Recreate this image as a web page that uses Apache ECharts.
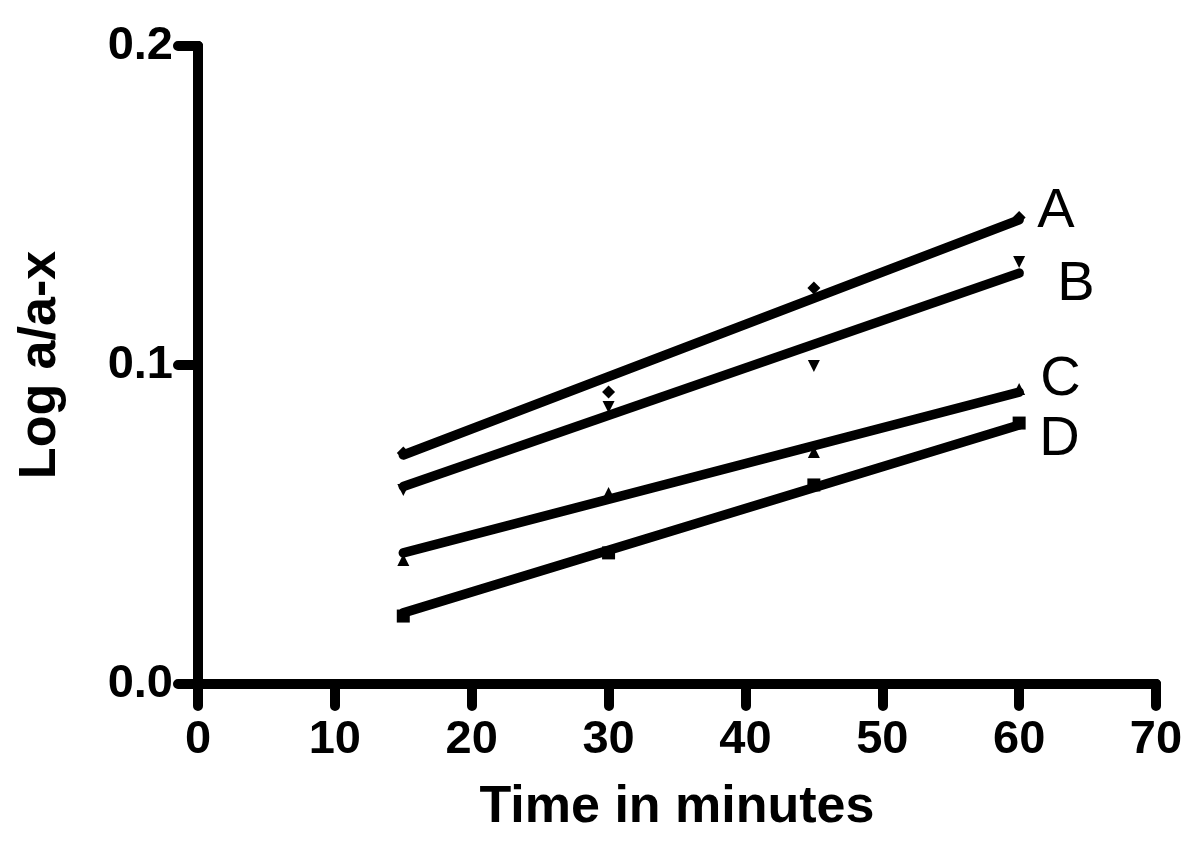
<!DOCTYPE html>
<html>
<head>
<meta charset="utf-8">
<script src="https://cdn.jsdelivr.net/npm/echarts@6/dist/echarts.min.js"></script>
<style>html,body{margin:0;padding:0;background:#fff}#c{width:1200px;height:854px}</style>
</head>
<body>
<div id="c"></div>
<script>
// Data
const times = [15, 30, 45, 60];
const seriesA = [0.0724, 0.0915, 0.1241, 0.1462];
const seriesB = [0.0608, 0.0868, 0.0997, 0.1323];
const seriesC = [0.0389, 0.0599, 0.0727, 0.0925];
const seriesD = [0.0213, 0.0411, 0.0624, 0.0818];
// Fitted line end points
const fitX = [15, 60];
const fitA = [0.0718, 0.1455];
const fitB = [0.0619, 0.1288];
const fitC = [0.0411, 0.0915];
const fitD = [0.0223, 0.0812];
const names = ['A', 'B', 'C', 'D'];
const xTicks = [0, 10, 20, 30, 40, 50, 60, 70];
const yTicks = [0.0, 0.1, 0.2];

const pts = (xs, ys) => xs.map((x, i) => [x, ys[i]]);
const FONT = '"Liberation Sans", Arial, sans-serif';

const markerSeries = [
  { data: seriesA, symbol: 'diamond', size: 13, rot: 0 },
  { data: seriesB, symbol: 'triangle', size: 12, rot: 180 },
  { data: seriesC, symbol: 'triangle', size: 12, rot: 0 },
  { data: seriesD, symbol: 'rect', size: 13, rot: 0 }
].map((s, i) => ({
  type: 'scatter',
  name: names[i] + '_pts',
  data: pts(times, s.data),
  symbol: s.symbol,
  symbolSize: s.size,
  symbolRotate: s.rot,
  itemStyle: { color: '#000', opacity: 1 },
  z: 2
}));

const labelOffsets = [[18, -8], [38, 11], [21, -13], [20, 15]];
const lineSeries = [fitA, fitB, fitC, fitD].map((f, i) => ({
  type: 'line',
  name: names[i],
  data: pts(fitX, f),
  symbol: 'none',
  lineStyle: { color: '#000', width: 9.5, cap: 'round' },
  endLabel: {
    show: true,
    formatter: '{a}',
    distance: 0,
    offset: labelOffsets[i],
    fontFamily: FONT,
    fontSize: 56,
    fontWeight: 'normal',
    color: '#000'
  },
  z: 3
}));

const chart = echarts.init(document.getElementById('c'));
chart.setOption({
  animation: false,
  backgroundColor: '#fff',
  grid: { left: 198, right: 44, top: 46, bottom: 170 },
  xAxis: [{
    type: 'value', min: 0, max: 70, interval: 10,
    name: 'Time in minutes', nameLocation: 'middle', nameGap: 98,
    nameTextStyle: { fontFamily: FONT, fontSize: 52, fontWeight: 'bold', color: '#000' },
    axisLine: { lineStyle: { color: '#000', width: 10, cap: 'round' } },
    axisTick: { show: true, length: 22, inside: false, lineStyle: { color: '#000', width: 10, cap: 'round' } },
    axisLabel: { margin: 33, fontFamily: FONT, fontSize: 47, fontWeight: 'bold', color: '#000',
      formatter: v => xTicks.includes(v) ? String(v) : '' },
    splitLine: { show: false }
  }, {
    type: 'value', min: 0, max: 70, position: 'top',
    axisLine: { show: true, lineStyle: { color: '#000', width: 10, cap: 'round' } },
    axisTick: { show: false }, axisLabel: { show: false }, splitLine: { show: false }
  }],
  yAxis: [{
    type: 'value', min: 0, max: 0.2, interval: 0.1,
    name: 'Log a/a-x', nameLocation: 'middle', nameGap: 131, nameRotate: 90,
    nameTextStyle: { fontFamily: FONT, fontSize: 52, fontWeight: 'bold', color: '#000' },
    axisLine: { show: true, lineStyle: { color: '#000', width: 10, cap: 'round' } },
    axisTick: { show: true, length: 20, inside: false, lineStyle: { color: '#000', width: 10, cap: 'round' } },
    axisLabel: { margin: 25, fontFamily: FONT, fontSize: 47, fontWeight: 'bold', color: '#000',
      formatter: v => v.toFixed(1) },
    splitLine: { show: false }
  }, {
    type: 'value', min: 0, max: 0.2, position: 'right',
    axisLine: { show: true, lineStyle: { color: '#000', width: 10, cap: 'round' } },
    axisTick: { show: false }, axisLabel: { show: false }, splitLine: { show: false }
  }],
  series: [...markerSeries, ...lineSeries]
});
</script>
</body>
</html>
